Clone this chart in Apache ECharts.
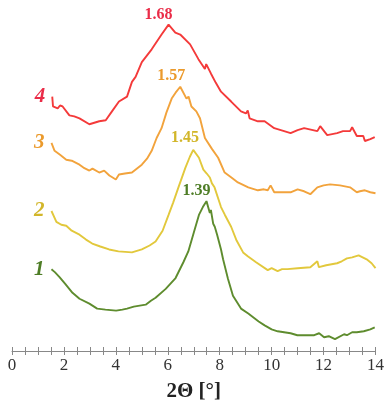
<!DOCTYPE html>
<html>
<head>
<meta charset="utf-8">
<script src="https://cdn.jsdelivr.net/npm/echarts@6/dist/echarts.min.js"></script>
<style>
  html, body { margin: 0; padding: 0; background: #fff; }
  #chart { width: 387px; height: 407px; }
</style>
</head>
<body>
<div id="chart"></div>
<script>
// 2θ [°] vs offset intensity (a.u.)
const curve1 = [[1.52,83],[1.65,80],[1.83,75],[2.05,68],[2.33,59],[2.6,53],[2.98,48],[3.28,43],[3.6,42],[4.01,41],[4.25,42],[4.43,43],[4.69,45],[5.15,47],[5.35,51],[5.53,54],[5.92,63],[6.3,74],[6.6,90],[6.79,101],[7.0,120],[7.2,138],[7.35,146],[7.49,152],[7.62,140],[7.66,143],[7.75,129],[7.81,126],[7.9,118],[8.05,103],[8.13,93],[8.32,73],[8.51,56],[8.82,43],[9.1,38],[9.35,33],[9.5,30],[9.73,26],[10.0,22],[10.23,20],[10.73,18],[10.99,16],[11.3,16],[11.64,16],[11.83,18],[12.02,14],[12.2,15],[12.44,12],[12.79,17],[12.9,16],[13.1,19],[13.28,19],[13.55,20],[13.8,22],[13.97,24]];
const curve2 = [[1.52,142],[1.71,131],[1.9,128],[2.09,127],[2.3,122],[2.6,118],[2.85,113],[3.09,109],[3.4,106],[3.74,103],[4.1,101],[4.62,100],[5.0,103],[5.3,107],[5.53,111],[5.8,122],[6.03,138],[6.2,150],[6.41,166],[6.68,186],[6.85,197],[6.98,204],[7.05,206],[7.2,196],[7.37,184],[7.5,180],[7.62,176],[7.7,170],[7.8,166],[8.05,146],[8.2,138],[8.44,126],[8.65,112],[8.9,100],[9.08,96],[9.4,90],[9.85,82],[10.0,84],[10.23,81],[10.4,83],[10.61,83],[11.0,84],[11.49,85],[11.76,91],[11.82,85],[12.1,87],[12.52,89],[12.7,91],[12.9,94],[13.1,95],[13.35,97],[13.66,93],[13.85,89],[14.0,84]];
const curve3 = [[1.52,211],[1.64,203],[1.85,199],[2.09,194],[2.3,193],[2.6,189],[2.75,186],[2.98,183],[3.1,185],[3.36,181],[3.55,183],[3.75,178],[4.0,174],[4.12,179],[4.35,180],[4.62,181],[5.0,189],[5.2,195],[5.38,203],[5.57,216],[5.76,226],[5.95,242],[6.15,256],[6.3,262],[6.48,268],[6.52,269],[6.72,256],[6.8,258],[6.91,248],[6.98,246],[7.1,243],[7.24,236],[7.43,216],[7.7,205],[7.94,196],[8.19,181],[8.45,176],[8.7,171],[9.1,166],[9.47,163],[9.7,164],[9.85,163],[9.96,168],[10.1,161],[10.4,161],[10.73,161],[11.0,164],[11.25,162],[11.49,159],[11.76,166],[12.0,168],[12.25,169],[12.63,168],[13.02,166],[13.28,161],[13.4,162],[13.59,163],[13.8,161],[14.0,160]];
const curve4 = [[1.55,258],[1.58,248],[1.76,246],[1.85,249],[1.95,248],[2.21,239],[2.4,238],[2.6,236],[2.98,230],[3.36,233],[3.61,234],[3.85,243],[4.12,253],[4.43,258],[4.62,273],[4.76,278],[5.0,293],[5.38,306],[5.76,321],[6.03,331],[6.29,323],[6.48,321],[6.86,311],[7.18,296],[7.43,286],[7.48,291],[7.67,281],[7.85,272],[8.05,263],[8.44,253],[8.82,243],[9.01,241],[9.08,244],[9.15,236],[9.47,233],[9.73,233],[10.1,226],[10.48,223],[10.73,221],[11.0,224],[11.25,226],[11.76,223],[11.87,228],[12.14,219],[12.52,221],[12.75,223],[13.02,223],[13.1,227],[13.28,218],[13.53,218],[13.59,213],[13.8,215],[13.97,217]];

const names = ['1', '2', '3', '4'];
const peakLabels = ['1.39', '1.45', '1.57', '1.68'];
const lineColors = ['#5e8c2e', '#e2c83c', '#f2a33c', '#f43a3a'];
const textColors = ['#4e7d26', '#d2b62a', '#eb9a2c', '#ea2c48'];

const curves = [curve1, curve2, curve3, curve4];
const serif = 'Liberation Serif';

function buildSeries(data, i) {
  let peak = 0;
  data.forEach((p, k) => { if (p[1] > data[peak][1]) peak = k; });
  return {
    type: 'line',
    name: names[i],
    showSymbol: true,
    symbol: 'circle',
    symbolSize: 0,
    smooth: false,
    label: { show: false },
    lineStyle: { color: lineColors[i], width: 1.9 },
    itemStyle: { color: lineColors[i] },
    data: data.map((p, k) => {
      if (k === 0) {
        return {
          value: p,
          label: {
            show: true, position: 'left', distance: 7,
            formatter: names[i],
            fontFamily: serif, fontStyle: 'italic', fontWeight: 'bold',
            fontSize: 21, color: textColors[i]
          }
        };
      }
      if (k === peak) {
        return {
          value: p,
          label: {
            show: true, position: 'top', distance: 2, offset: [-10, 0],
            formatter: peakLabels[i],
            fontFamily: serif, fontWeight: 'bold',
            fontSize: 16, color: textColors[i]
          }
        };
      }
      return p;
    })
  };
}

const chart = echarts.init(document.getElementById('chart'));
chart.setOption({
  animation: false,
  grid: { left: 12, right: 8, top: 0, bottom: 51 },
  xAxis: [{
    type: 'value',
    min: 0, max: 14, interval: 2,
    position: 'bottom',
    name: '2Θ [°]',
    nameLocation: 'middle',
    nameGap: 30,
    nameTextStyle: { fontFamily: serif, fontWeight: 'bold', fontSize: 21, color: '#222' },
    axisLine: { lineStyle: { color: '#888', width: 1 } },
    axisTick: { show: true, length: 4, lineStyle: { color: '#888' } },
    minorTick: { show: true, splitNumber: 4, length: 4, lineStyle: { color: '#888' } },
    axisLabel: { fontFamily: serif, fontSize: 17, color: '#333', margin: 6 },
    splitLine: { show: false }
  }, {
    type: 'value',
    min: 0, max: 14, interval: 2,
    position: 'bottom',
    axisLine: { show: false },
    axisTick: { show: true, inside: true, length: 4, lineStyle: { color: '#888' } },
    minorTick: { show: true, splitNumber: 4, length: 4, lineStyle: { color: '#888' } },
    axisLabel: { show: false },
    splitLine: { show: false }
  }],
  yAxis: { type: 'value', min: 0, max: 356, show: false, splitLine: { show: false } },
  series: curves.map(buildSeries)
});
</script>
</body>
</html>
